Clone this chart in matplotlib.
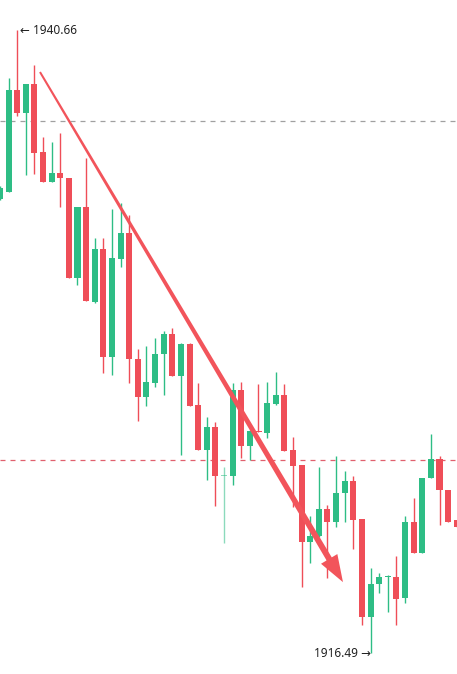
import numpy as np
import matplotlib
matplotlib.use('Agg')
import matplotlib.pyplot as plt
from matplotlib.patches import Polygon
from matplotlib.transforms import IdentityTransform

GREEN = '#2ebd85'
RED = '#ef4e58'
ARROW = '#f2545b'

# OHLC per candle (price)
opens = [1934.10, 1934.38, 1938.33, 1937.44, 1938.57, 1935.93, 1934.76, 1935.11, 1934.92, 1931.04,
         1933.79, 1930.11, 1932.16, 1927.97, 1931.78, 1932.78, 1927.90, 1926.42, 1926.97, 1928.09,
         1928.87, 1927.24, 1928.48, 1926.11, 1924.37, 1925.26, 1923.36, 1923.36, 1926.69, 1924.52,
         1925.10, 1925.03, 1926.15, 1926.50, 1924.37, 1923.78, 1920.80, 1921.03, 1922.08, 1921.57,
         1922.70, 1923.16, 1921.69, 1917.89, 1919.17, 1919.44, 1919.44, 1918.62, 1921.57, 1920.37,
         1923.28, 1924.02, 1922.81, 1921.65]
highs = [1934.61, 1938.80, 1940.66, 1938.57, 1939.30, 1936.51, 1936.32, 1936.66, 1934.92, 1933.79,
         1935.69, 1932.59, 1932.59, 1933.72, 1933.95, 1933.48, 1928.28, 1928.40, 1928.71, 1928.98,
         1929.10, 1928.52, 1928.52, 1926.97, 1925.65, 1925.45, 1923.71, 1926.97, 1927.00, 1925.14,
         1926.93, 1927.00, 1927.39, 1926.93, 1924.87, 1923.78, 1921.81, 1923.71, 1922.23, 1924.13,
         1923.55, 1923.36, 1921.69, 1919.79, 1919.59, 1919.52, 1920.25, 1921.81, 1922.50, 1923.28,
         1924.99, 1924.13, 1922.81, 1921.65]
lows = [1934.06, 1934.38, 1937.32, 1935.03, 1935.07, 1934.76, 1934.76, 1933.79, 1931.04, 1930.77,
        1930.15, 1930.07, 1927.35, 1927.28, 1931.47, 1926.97, 1925.49, 1926.07, 1926.81, 1926.50,
        1927.24, 1924.17, 1926.07, 1924.37, 1923.20, 1922.19, 1920.76, 1923.01, 1924.06, 1923.98,
        1925.06, 1924.83, 1926.11, 1924.33, 1922.15, 1919.05, 1919.98, 1920.99, 1919.40, 1921.38,
        1921.57, 1920.53, 1917.58, 1916.49, 1918.82, 1918.08, 1917.58, 1918.43, 1920.37, 1920.37,
        1923.28, 1921.46, 1921.57, 1921.38]
closes = [1934.53, 1938.33, 1937.44, 1938.57, 1935.89, 1934.76, 1935.11, 1934.92, 1931.04, 1933.79,
          1930.15, 1932.16, 1927.97, 1931.81, 1932.78, 1927.90, 1926.42, 1927.00, 1928.09, 1928.87,
          1927.24, 1928.48, 1926.07, 1924.37, 1925.26, 1923.36, 1923.40, 1926.69, 1924.52, 1925.10,
          1925.06, 1926.19, 1926.50, 1924.33, 1923.75, 1920.80, 1921.03, 1922.08, 1921.57, 1922.70,
          1923.16, 1921.65, 1917.89, 1919.17, 1919.44, 1919.48, 1918.59, 1921.57, 1920.37, 1923.28,
          1924.02, 1922.81, 1921.57, 1921.38]
faded = [26]

level_grey = 1937.13
level_red = 1923.98
max_label = '← 1940.66'
min_label = '1916.49 →'
arrow_start = (4.65, 1939.03)
arrow_tip = (39.80, 1919.24)

fig = plt.figure(figsize=(4.57, 6.74), dpi=100)
ax = fig.add_axes([0, 0, 1, 1])
ax.set_xlim(0.01, 53.03)
ax.set_ylim(1915.676, 1941.824)
ax.axis('off')

x = np.arange(len(opens))
o = np.array(opens); c = np.array(closes)
up = c >= o
cols = [GREEN if u else RED for u in up]
alphas = [0.55 if i in faded else 1.0 for i in x]

for i in x:
    ax.vlines(i, lows[i], highs[i], color=cols[i], lw=1, alpha=alphas[i], zorder=2)
    bot = min(o[i], c[i])
    h = max(abs(c[i] - o[i]), 0.04)
    ax.bar(i, h, bottom=bot, width=0.7, color=cols[i], alpha=alphas[i], lw=0, zorder=3)

ax.axhline(level_grey, color='#a0a0a0', lw=0.9, dashes=(4, 4), zorder=1)
ax.axhline(level_red, color='#e0606e', lw=0.9, dashes=(4, 4), zorder=1)

fam = ['Noto Sans', 'DejaVu Sans']
ax.text(2.3, 1940.66, max_label, ha='left', va='center', fontsize=8.5, color='#222222', family=fam)
ax.text(43.0, 1916.49, min_label, ha='right', va='center', fontsize=8.5, color='#222222', family=fam)

# tapered trend arrow, built in display pixels
p0 = ax.transData.transform(arrow_start)
p1 = ax.transData.transform(arrow_tip)
d = (p1 - p0) / np.linalg.norm(p1 - p0)
n = np.array([-d[1], d[0]])
head_len, head_half = 27, 9.5
base = p1 - d * head_len
w0, w1 = 1.0, 3.0
pts = [p0 + n * w0, base + n * w1, base + n * head_half, p1,
       base - n * head_half, base - n * w1, p0 - n * w0]
ax.add_patch(Polygon(pts, closed=True, transform=IdentityTransform(),
                     facecolor=ARROW, edgecolor='none', zorder=5))

fig.savefig('out.png', dpi=100, facecolor='white')
